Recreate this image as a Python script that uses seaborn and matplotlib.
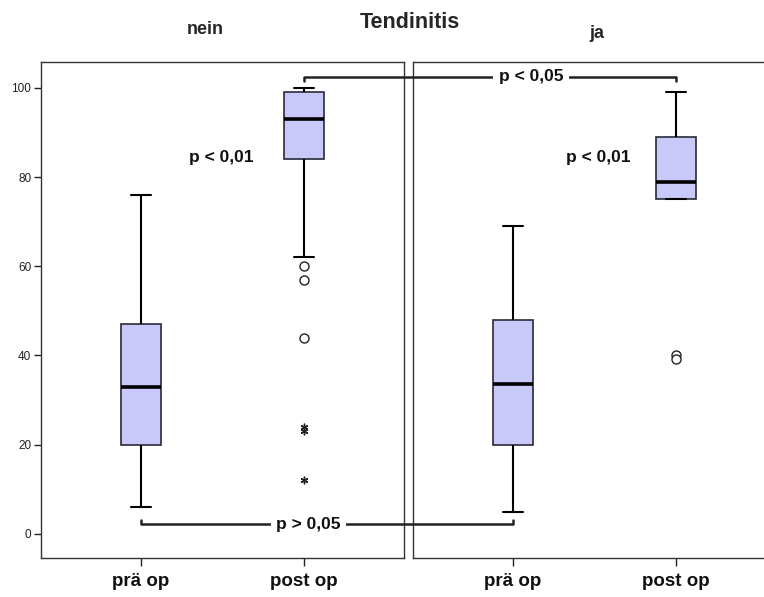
import numpy as np
import pandas as pd
import matplotlib
matplotlib.use("Agg")
import matplotlib.pyplot as plt
from matplotlib.lines import Line2D
import seaborn as sns

sns.set_style("white")
plt.rcParams["font.family"] = ["Liberation Sans", "DejaVu Sans"]

groups = ["nein", "ja"]
times = ["prä op", "post op"]

# five-number summaries per box: lower whisker, Q1, median, Q3, upper whisker
nein_pre = [6, 20, 33, 47, 76]
nein_post = [62, 84, 93, 99, 100]
ja_pre = [5, 20, 33.5, 48, 69]
ja_post = [75, 75, 79, 89, 99]

# outliers (circles) and extreme values (stars) beyond the whiskers
nein_post_outliers = [60, 57, 44]
nein_post_extremes = [24, 23, 12]
ja_post_outliers = [40, 39.2]

yticks = [0, 20, 40, 60, 80, 100]
p_within = ["p < 0,01", "p < 0,01"]
p_post = "p < 0,05"
p_pre = "p > 0,05"

summaries = {("nein", "prä op"): nein_pre, ("nein", "post op"): nein_post,
             ("ja", "prä op"): ja_pre, ("ja", "post op"): ja_post}
rows = [(g, t, v) for (g, t), vals in summaries.items() for v in vals]
df = pd.DataFrame(rows, columns=["group", "time", "value"])

outliers = {"nein": nein_post_outliers, "ja": ja_post_outliers}
extremes = {"nein": nein_post_extremes, "ja": []}

W, H = 764, 597
fig = plt.figure(figsize=(W / 100, H / 100), dpi=100)
axL = fig.add_axes([41 / W, 1 - 558 / H, 363 / W, 496 / H])
axR = fig.add_axes([413 / W, 1 - 558 / H, 363 / W, 496 / H], sharey=axL)

box_fill = "#c9c9f9"
edge = "#2a2a3a"
post_pos = times.index("post op")
pre_pos = times.index("prä op")

for ax, g, ptxt in zip([axL, axR], groups, p_within):
    sns.boxplot(data=df[df["group"] == g], x="time", y="value", order=times,
                whis=(0, 100), width=0.25, color=box_fill, saturation=1,
                linecolor=edge, linewidth=1.2, ax=ax,
                medianprops=dict(color="black", linewidth=2.6),
                whiskerprops=dict(color="black", linewidth=1.5),
                capprops=dict(color="black", linewidth=1.5))
    ax.plot([post_pos] * len(outliers[g]), outliers[g], linestyle="none",
            marker="o", markersize=6.5, markerfacecolor="white",
            markeredgecolor="#222", markeredgewidth=1.0)
    if extremes[g]:
        ax.plot([post_pos] * len(extremes[g]), extremes[g], linestyle="none",
                marker=(6, 2, 0), markersize=5.5, markeredgecolor="#222",
                markeredgewidth=1.0)
    ax.set_xlim(-0.613, 1.613)
    ax.set_ylim(-5.4, 105.8)
    ax.set_xlabel("")
    ax.set_ylabel("")
    ax.set_xticks(range(len(times)))
    ax.set_xticklabels(times, fontsize=13.5, fontweight="bold", color="#111")
    ax.tick_params(axis="x", direction="out", length=6, width=1.0,
                   color="#222", bottom=True, pad=5)
    for s in ax.spines.values():
        s.set_color("#333")
        s.set_linewidth(1.0)
    ax.text(0.49 if g == "nein" else 0.52, 84.5, ptxt, ha="center",
            va="center", fontsize=12.5, fontweight="bold", color="#111")

axL.set_yticks(yticks)
axL.tick_params(axis="y", direction="out", length=5, width=1.0, color="#222",
                left=True, labelsize=8.5, labelcolor="#222", pad=2)
axR.tick_params(axis="y", left=False, labelleft=False)

axL.text((205 - 41) / 363, 1.065, groups[0], transform=axL.transAxes,
         ha="center", va="center", fontsize=13, fontweight="bold")
axR.text((597 - 413) / 363, 1.058, groups[1], transform=axR.transAxes,
         ha="center", va="center", fontsize=13, fontweight="bold")
fig.text(410 / W, 1 - 22 / H, "Tendinitis", ha="center", va="center",
         fontsize=15.5, fontweight="bold")

# comparison brackets spanning both panels
fig.canvas.draw()
to_fig = fig.transFigure.inverted()


def bracket(x_left, x_right, y, tick, label, frac):
    a = to_fig.transform(axL.transData.transform((x_left, y)))
    b = to_fig.transform(axR.transData.transform((x_right, y)))
    at = to_fig.transform(axL.transData.transform((x_left, y + tick)))
    bt = to_fig.transform(axR.transData.transform((x_right, y + tick)))
    line = Line2D([at[0], a[0], b[0], bt[0]], [at[1], a[1], b[1], bt[1]],
                  transform=fig.transFigure, color="#222", linewidth=1.8,
                  solid_joinstyle="round", solid_capstyle="round")
    fig.add_artist(line)
    xm = a[0] + frac * (b[0] - a[0])
    fig.text(xm, a[1], label, ha="center", va="center", fontsize=12.5,
             fontweight="bold", color="#111",
             bbox=dict(facecolor="white", edgecolor="none", pad=4))


bracket(post_pos, post_pos, 102.5, -0.9, p_post, 0.61)
bracket(pre_pos, pre_pos, 2.2, 0.9, p_pre, 0.45)

fig.savefig("out.png", dpi=100)
